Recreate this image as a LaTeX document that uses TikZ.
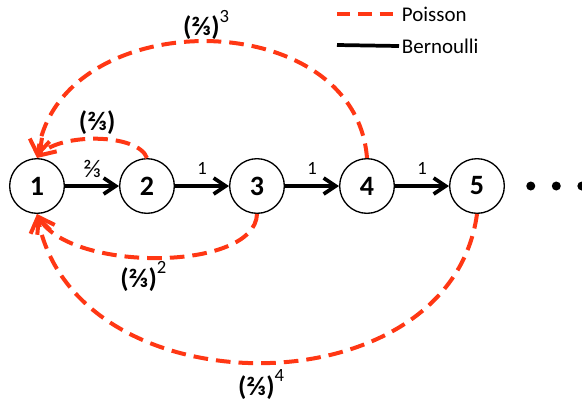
\documentclass[tikz,border=0pt]{standalone}
\usepackage{fontspec}
\setmainfont{Carlito}
\definecolor{PoissonRed}{RGB}{255,55,20}
\usetikzlibrary{arrows.meta,positioning}
\newcommand{\pwr}[1]{\textbf{(⅔)}\raisebox{0.5em}{\fontsize{14}{14}\selectfont\mdseries #1}}

\begin{document}
\begin{tikzpicture}[
    x=0.75pt, y=-0.75pt, node distance=40.5pt,
    state/.style={draw, circle, line width=1pt, fill=white, minimum size=41pt,
                  inner sep=0pt, font=\fontsize{21}{21}\selectfont\bfseries},
    bern/.style={line width=2.8pt, -{Straight Barb[length=9pt,width=12pt]}},
    pois/.style={line width=3pt, PoissonRed, dash pattern=on 11pt off 6pt,
                 -{Straight Barb[length=11pt,width=15pt]}},
    prob/.style={font=\fontsize{14}{14}\selectfont, inner sep=1pt},
    pw/.style={font=\fontsize{20}{20}\selectfont, text=black, inner sep=2pt},
    legtxt/.style={font=\fontsize{15.7}{16}\selectfont, inner sep=2pt, anchor=west},
    dot/.style={circle, fill=black, inner sep=0pt, minimum size=6.75pt}
  ]
  \useasboundingbox (0,0) rectangle (582,408);
  % states
  \node[state] (n1) at (37,186) {1};
  \node[state, right=of n1] (n2) {2};
  \node[state, right=of n2] (n3) {3};
  \node[state, right=of n3] (n4) {4};
  \node[state, right=of n4] (n5) {5};
  \node[dot, right=15.75pt of n5] (d1) {};
  \node[dot, right=12pt of d1]    (d2) {};
  \node[dot, right=12pt of d2]    (d3) {};
  % Bernoulli
  \draw[bern] (n1) -- node[prob, above=4pt, font=\fontsize{19}{19}\selectfont] {⅔} (n2);
  \draw[bern] (n2) -- node[prob, above=6pt] {1} (n3);
  \draw[bern] (n3) -- node[prob, above=6pt] {1} (n4);
  \draw[bern] (n4) -- node[prob, above=6pt] {1} (n5);
  % Poisson
  \draw[pois] (n2.north) .. controls (138,133) and (60,133) ..
     node[pw, above] {\textbf{(⅔)}} (n1.north);
  \draw[pois] (n3.south) .. controls (255,272) and (70,272) ..
     node[pw, below, pos=0.55] {\pwr{2}} (n1.south);
  \draw[pois] (n4.north) .. controls (355,3) and (60,3) ..
     node[pw, above=-2pt] {\pwr{3}} (n1.north);
  \draw[pois] (n5.south) .. controls (450,412) and (75,412) ..
     node[pw, below=2pt] {\pwr{4}} (n1.south);
  % legend
  \coordinate (lp) at (337,14);
  \coordinate (lb) at (337,45);
  \node[legtxt] (tp) at (399,14) {Poisson};
  \node[legtxt] (tb) at (399,46) {Bernoulli};
  \draw[line width=3pt, PoissonRed, dash pattern=on 10pt off 6pt] (lp) -- (tp.west);
  \draw[line width=2.8pt] (lb) -- (tb.west);
\end{tikzpicture}
\end{document}
